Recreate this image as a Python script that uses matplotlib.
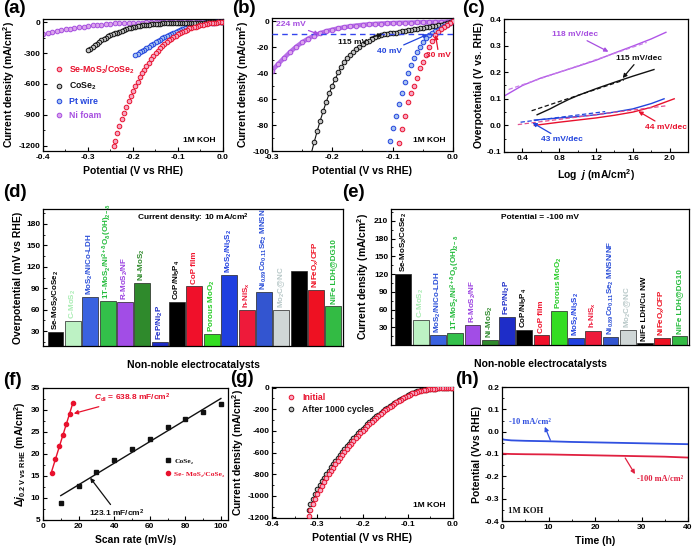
import numpy as np
import matplotlib
matplotlib.use('Agg')
import matplotlib.pyplot as plt
from matplotlib.ticker import AutoMinorLocator, MultipleLocator

plt.rcParams['font.family'] = ['Liberation Sans', 'DejaVu Sans']
plt.rcParams['font.weight'] = 'bold'
plt.rcParams['axes.labelweight'] = 'bold'
plt.rcParams['mathtext.fontset'] = 'custom'
plt.rcParams['mathtext.rm'] = 'Liberation Sans:bold'
plt.rcParams['mathtext.it'] = 'Liberation Sans:italic:bold'
plt.rcParams['mathtext.bf'] = 'Liberation Sans:bold'
plt.rcParams['mathtext.default'] = 'rm'
plt.rcParams['axes.unicode_minus'] = False
plt.rcParams['xtick.direction'] = 'in'
plt.rcParams['ytick.direction'] = 'in'
plt.rcParams['xtick.labelsize'] = 6
plt.rcParams['ytick.labelsize'] = 6
plt.rcParams['axes.labelsize'] = 7.5
plt.rcParams['axes.linewidth'] = 0.9
plt.rcParams['xtick.major.size'] = 3
plt.rcParams['ytick.major.size'] = 3
plt.rcParams['xtick.minor.size'] = 1.6
plt.rcParams['ytick.minor.size'] = 1.6
plt.rcParams['xtick.major.pad'] = 2
plt.rcParams['ytick.major.pad'] = 2

# ---------------- data ----------------
# polarization curves (V vs RHE, mA/cm2)
se_E = [0, -0.005, -0.01, -0.015, -0.02, -0.025, -0.03, -0.035, -0.04, -0.045,
        -0.05, -0.055, -0.06, -0.065, -0.07, -0.075, -0.08, -0.085, -0.09, -0.095,
        -0.1, -0.105, -0.11, -0.115, -0.12, -0.125, -0.13, -0.135, -0.14, -0.145,
        -0.15, -0.155, -0.16, -0.165, -0.17, -0.175, -0.18, -0.185, -0.19, -0.195,
        -0.2, -0.205, -0.21, -0.215, -0.22, -0.225, -0.23, -0.235, -0.24, -0.243]
se_j = [0, -1.5, -3.0, -4.5, -6.2, -8.2, -10.8, -15, -20, -26,
        -31, -36, -44, -50, -55, -62, -73, -83, -94, -105,
        -117, -130, -145, -160, -176, -194, -213, -233, -255, -278,
        -302, -330, -360, -392, -425, -460, -497, -536, -578, -622,
        -668, -716, -768, -823, -880, -942, -1008, -1078, -1150, -1205]

cose_E = [0, -0.005, -0.01, -0.015, -0.02, -0.025, -0.03, -0.035, -0.04, -0.045,
          -0.05, -0.055, -0.06, -0.065, -0.07, -0.075, -0.08, -0.085, -0.09, -0.095,
          -0.1, -0.105, -0.11, -0.115, -0.12, -0.125, -0.13, -0.135, -0.14, -0.145,
          -0.15, -0.155, -0.16, -0.165, -0.17, -0.175, -0.18, -0.185, -0.19, -0.195,
          -0.2, -0.205, -0.21, -0.215, -0.22, -0.225, -0.23, -0.235, -0.24, -0.245,
          -0.25, -0.255, -0.26, -0.265, -0.27, -0.275, -0.28, -0.285, -0.29, -0.295, -0.3]
cose_j = [0, -0.8, -1.5, -2.0, -2.5, -3.0, -3.4, -3.8, -4.2, -4.6,
          -5.0, -5.4, -5.8, -6.2, -6.6, -7.0, -7.4, -7.8, -8.2, -8.6,
          -9.0, -9.3, -9.7, -10.1, -10.7, -11.5, -12.4, -13.5, -14.8, -16.2,
          -17.8, -19.5, -21.4, -23.5, -25.8, -28.5, -31.6, -35.2, -39.4, -44.2,
          -49.5, -55.5, -62, -69, -76.5, -84.5, -93, -102, -110, -119,
          -128, -139, -150, -163, -177, -192, -208, -224, -241, -258, -275]

pt_E = [0, -0.005, -0.01, -0.015, -0.02, -0.025, -0.03, -0.035, -0.04, -0.045,
        -0.05, -0.055, -0.06, -0.065, -0.07, -0.075, -0.08, -0.085, -0.09, -0.095,
        -0.1, -0.105, -0.11, -0.115, -0.12, -0.125, -0.13, -0.135, -0.14, -0.145,
        -0.15, -0.155, -0.16, -0.165, -0.17, -0.175, -0.18, -0.185, -0.19, -0.195]
pt_j = [0, -1.2, -2.5, -3.8, -5.0, -6.3, -7.7, -9.2, -10.8, -13.0,
        -16.0, -19.5, -23.5, -28.5, -34, -40, -47, -55, -64, -73,
        -82, -92, -102, -113, -124, -135, -147, -159, -171, -184,
        -197, -210, -224, -238, -252, -266, -280, -294, -308, -320]

ni_E = [0, -0.01, -0.02, -0.03, -0.04, -0.05, -0.06, -0.07, -0.08, -0.09,
        -0.1, -0.11, -0.12, -0.13, -0.14, -0.15, -0.16, -0.17, -0.18, -0.19,
        -0.2, -0.21, -0.22, -0.23, -0.24, -0.25, -0.26, -0.27, -0.28, -0.29,
        -0.3, -0.31, -0.32, -0.33, -0.34, -0.35, -0.36, -0.37, -0.38, -0.39, -0.4]
ni_j = [0, -0.2, -0.4, -0.5, -0.6, -0.7, -0.8, -0.9, -1.0, -1.1,
        -1.3, -1.5, -1.7, -2.0, -2.3, -2.7, -3.2, -3.8, -4.5, -5.4,
        -6.4, -7.6, -9.1, -11.0, -13.3, -16.2, -19.6, -23.7, -28.2, -33,
        -38, -43.5, -49.5, -56, -63, -70.5, -78.5, -87, -96, -105.5, -115]

# Tafel plots (log j, overpotential V)
taf_pu_x = [0.21, 0.4, 0.6, 0.8, 1.0, 1.2, 1.4, 1.6, 1.8, 1.96]
taf_pu_y = [0.112, 0.15, 0.178, 0.2, 0.222, 0.245, 0.272, 0.298, 0.325, 0.35]
taf_bk_x = [0.56, 0.7, 0.8, 0.9, 1.0, 1.2, 1.4, 1.6, 1.83]
taf_bk_y = [0.04, 0.062, 0.08, 0.097, 0.112, 0.138, 0.162, 0.185, 0.21]
taf_bl_x = [0.53, 0.8, 1.0, 1.2, 1.4, 1.6, 1.8, 1.94]
taf_bl_y = [0.02, 0.028, 0.033, 0.04, 0.05, 0.062, 0.082, 0.1]
taf_rd_x = [0.53, 0.8, 1.0, 1.2, 1.4, 1.6, 1.8, 2.05]
taf_rd_y = [0.0, 0.012, 0.02, 0.028, 0.038, 0.05, 0.068, 0.1]
fit_pu_x, fit_pu_y = [0.25, 1.75], [0.135, 0.312]
fit_bk_x, fit_bk_y = [0.5, 1.5], [0.055, 0.17]
fit_bl_x, fit_bl_y = [0.38, 1.3], [0.012, 0.052]
fit_rd_x, fit_rd_y = [0.35, 1.97], [0.003, 0.074]

# comparison bars
cat_d = ['Se-MoS$_2$/CoSe$_2$', 'C-MoS$_2$', 'MoS$_2$/NiCo-LDH',
         '1T-MoS$_2$/Ni$^{2+\\delta}$O$_\\delta$(OH)$_{2-\\delta}$', 'R-MoS$_2$/NF',
         'Ni-MoS$_2$', 'FeP/Ni$_2$P', 'CoP/Ni$_5$P$_4$', 'CoP film', 'Porous MoO$_2$',
         'MoS$_2$/Ni$_3$S$_2$', 'h-NiS$_x$', 'Ni$_{0.89}$Co$_{0.11}$Se$_2$ MNSN',
         'Mo$_2$C@NC', '', 'NiFeO$_x$/CFP', 'NiFe LDH@DG10']
cat_e = ['Se-MoS$_2$/CoSe$_2$', 'C-MoS$_2$', 'MoS$_2$/NiCo-LDH',
         '1T-MoS$_2$/Ni$^{2+\\delta}$O$_\\delta$(OH)$_{2-\\delta}$', 'R-MoS$_2$/NF',
         'Ni-MoS$_2$', 'FeP/Ni$_2$P', 'CoP/Ni$_5$P$_4$', 'CoP film', 'Porous MoO$_2$',
         'MoS$_2$/Ni$_3$S$_2$', 'h-NiS$_x$', 'Ni$_{0.89}$Co$_{0.11}$Se$_2$ MNSN/NF',
         'Mo$_2$C@NC', 'NiFe LDH/Cu NW', 'NiFeO$_x$/CFP', 'NiFe LDH@DG10']
overpot = [29, 44.5, 77, 72, 70, 97, 14.5, 70, 93, 26, 109, 60, 85, 60, 114, 87, 65]
curr100 = [120, 42.5, 17.6, 21, 34.5, 8.6, 48, 25.5, 16.5, 57.6, 11, 24.4, 13, 25, 4, 11, 15]
bar_colors = ['#000000', '#bdf2c4', '#3a62e0', '#33c04a', '#a24de6', '#2f8a2c',
              '#1e2dc8', '#000000', '#f0102a', '#33dd22', '#1f3fe0', '#ee1a3a',
              '#3355d0', '#cfd6d6', '#000000', '#ee1122', '#33bb44']
text_colors = ['#000000', '#a8ecb2', '#2a4ed8', '#22bb3a', '#9a40e0', '#2f8a2c',
               '#1e2dc8', '#000000', '#f0102a', '#22cc22', '#1f3fe0', '#ee1a3a',
               '#2a4ed8', '#b8c8c8', '#000000', '#ee1122', '#22bb3a']

# double layer capacitance
scan_cose = [10, 20, 30, 40, 50, 60, 70, 80, 90, 100]
dj_cose = [8.9, 12.7, 16.0, 18.7, 21.1, 23.3, 26.2, 28.0, 29.6, 31.3]
scan_se = [5, 7, 9, 11, 13, 15, 17]
dj_se = [15.75, 18.9, 21.75, 24.3, 26.9, 29.2, 31.5]

# stability: initial vs after 1000 cycles
g_E = [0, -0.005, -0.01, -0.015, -0.02, -0.025, -0.03, -0.035, -0.04, -0.045,
       -0.05, -0.055, -0.06, -0.065, -0.07, -0.075, -0.08, -0.085, -0.09, -0.095,
       -0.1, -0.105, -0.11, -0.115, -0.12, -0.125, -0.13, -0.135, -0.14, -0.145,
       -0.15, -0.155, -0.16, -0.165, -0.17, -0.175, -0.18, -0.185, -0.19, -0.195,
       -0.2, -0.205, -0.21, -0.215, -0.22, -0.225, -0.23, -0.235, -0.24, -0.245,
       -0.25, -0.255, -0.26, -0.265, -0.27, -0.275, -0.28, -0.285, -0.29, -0.295,
       -0.3, -0.305, -0.31, -0.315, -0.318]
g_init = [-1, -2, -3, -4, -5, -6, -7, -8, -10, -12,
          -14, -17, -20, -24, -28, -33, -38, -46, -55, -66,
          -78, -89, -100, -112, -125, -138, -152, -166, -180, -196,
          -212, -228, -245, -262, -280, -299, -318, -338, -358, -379,
          -400, -422, -445, -468, -492, -517, -542, -568, -595, -622,
          -650, -679, -708, -739, -770, -802, -835, -870, -905, -945,
          -985, -1030, -1080, -1135, -1190]
g_after = [-1, -2, -3, -4, -5, -6, -7, -8, -9, -11,
           -13, -16, -19, -22, -26, -31, -36, -43, -51, -61,
           -72, -83, -94, -105, -117, -130, -143, -157, -171, -186,
           -201, -217, -233, -250, -267, -285, -303, -322, -341, -361,
           -381, -402, -424, -446, -469, -493, -517, -542, -568, -594,
           -621, -648, -677, -706, -736, -767, -798, -831, -864, -900,
           -938, -980, -1025, -1075, -1130]

# chronopotentiometry
t_h = [0, 0.5, 2, 5, 10, 15, 20, 25, 30, 35, 40]
v_10 = [-0.033, -0.036, -0.039, -0.041, -0.043, -0.046, -0.048, -0.05, -0.052, -0.054, -0.056]
v_100 = [-0.098, -0.099, -0.1, -0.101, -0.102, -0.104, -0.106, -0.108, -0.11, -0.112, -0.116]

RED, RED_F = '#e8112d', '#f6a9c4'
BLK, BLK_F = '#111111', '#c4c4c4'
BLU, BLU_F = '#2244dd', '#a8c4f0'
PUR, PUR_F = '#a64ee0', '#dca6ec'

W, H = 694, 552
fig = plt.figure(figsize=(W / 100, H / 100), dpi=100)


def add_ax(l, t, r, b):
    return fig.add_axes([l / W, 1 - b / H, (r - l) / W, (b - t) / H])


def minor(ax, x=True, y=True):
    if x:
        ax.xaxis.set_minor_locator(AutoMinorLocator(2))
    if y:
        ax.yaxis.set_minor_locator(AutoMinorLocator(2))


mk = dict(marker='o', ms=3.3, mew=0.7, ls='none')
arw = dict(arrowstyle='-|>', lw=0.9, mutation_scale=6, shrinkA=0, shrinkB=0)

# (a) ------------------------------------------------------------
ax = add_ax(43, 19, 223, 151)
ax.plot(se_E, se_j, mec=RED, mfc=RED_F, label='Se-MoS$_2$/CoSe$_2$', zorder=5, **mk)
ax.plot(cose_E, cose_j, mec=BLK, mfc=BLK_F, label='CoSe$_2$', zorder=4, **mk)
ax.plot(pt_E, pt_j, mec=BLU, mfc=BLU_F, label='Pt wire', zorder=3, **mk)
ax.plot(ni_E, ni_j, mec=PUR, mfc=PUR_F, label='Ni foam', zorder=2, **mk)
ax.set_xlim(-0.4, 0.0)
ax.set_ylim(-1250, 30)
ax.xaxis.set_major_locator(MultipleLocator(0.1))
ax.set_yticks([0, -300, -600, -900, -1200])
minor(ax)
ax.set_xlabel('Potential (V vs RHE)')
ax.set_ylabel('Current density (mA/cm$^2$)', labelpad=1)
ax.legend(loc='upper left', bbox_to_anchor=(0.02, 0.69), frameon=False, fontsize=6.3,
          handletextpad=0.2, labelspacing=0.55, numpoints=1, borderaxespad=0,
          labelcolor='markeredgecolor')
ax.text(0.96, 0.05, '1M KOH', transform=ax.transAxes, ha='right', va='bottom', fontsize=6)

# (b) ------------------------------------------------------------
ax = add_ax(272, 18, 453, 151)
ax.plot(ni_E, ni_j, color=PUR, lw=3.2, alpha=0.8, zorder=2)
ax.plot(ni_E, ni_j, mec=PUR, mfc=PUR_F, zorder=2, **mk)
ax.plot(cose_E, cose_j, color=BLK, lw=0.8, zorder=3)
ax.plot(cose_E, cose_j, mec=BLK, mfc=BLK_F, zorder=3, **mk)
ax.plot(pt_E, pt_j, mec=BLU, mfc=BLU_F, zorder=4, **mk)
ax.plot(se_E, se_j, mec=RED, mfc=RED_F, zorder=5, **mk)
ax.axhline(-10, color='#3344ee', ls=(0, (4, 3)), lw=1.0, zorder=6)
ax.set_xlim(-0.3, 0.0)
ax.set_ylim(-100, 2.6)
ax.xaxis.set_major_locator(MultipleLocator(0.1))
ax.yaxis.set_major_locator(MultipleLocator(20))
minor(ax)
ax.set_xlabel('Potential (V vs RHE)')
ax.set_ylabel('Current density (mA/cm$^2$)', labelpad=1)
ax.annotate('224 mV', xy=(-0.222, -10), xytext=(-0.293, -2.2), color=PUR, fontsize=6,
            va='center', arrowprops=dict(color=PUR, **arw), zorder=8)
ax.annotate('115 mV', xy=(-0.117, -10), xytext=(-0.19, -16), color=BLK, fontsize=6,
            va='center', arrowprops=dict(color=BLK, **arw), zorder=8)
ax.annotate('40 mV', xy=(-0.042, -10), xytext=(-0.126, -23), color=BLU, fontsize=6,
            va='center', arrowprops=dict(color=BLU, **arw), zorder=8)
ax.annotate('30 mV', xy=(-0.029, -10.5), xytext=(-0.044, -26.5), color=RED, fontsize=6,
            va='center', arrowprops=dict(color=RED, **arw), zorder=8)
ax.text(0.96, 0.05, '1M KOH', transform=ax.transAxes, ha='right', va='bottom', fontsize=6)

# (c) ------------------------------------------------------------
ax = add_ax(504, 19, 688, 152)
ax.plot(taf_pu_x, taf_pu_y, color='#b055e8', lw=1.0)
ax.plot(taf_bk_x, taf_bk_y, color=BLK, lw=1.0)
ax.plot(taf_bl_x, taf_bl_y, color=BLU, lw=1.0)
ax.plot(taf_rd_x, taf_rd_y, color=RED, lw=1.0)
dash = (0, (3.5, 2))
ax.plot(fit_pu_x, fit_pu_y, color='#c77ee8', lw=0.9, ls=dash)
ax.plot(fit_bk_x, fit_bk_y, color=BLK, lw=0.9, ls=dash)
ax.plot(fit_bl_x, fit_bl_y, color=BLU, lw=0.9, ls=dash)
ax.plot(fit_rd_x, fit_rd_y, color='#e05090', lw=0.9, ls=dash)
ax.set_xlim(0.2, 2.2)
ax.set_ylim(-0.1, 0.4)
ax.set_xticks([0.4, 0.8, 1.2, 1.6, 2.0])
ax.yaxis.set_major_locator(MultipleLocator(0.1))
minor(ax)
ax.set_xlabel('Log  $\\mathit{j}$ (mA/cm$^2$)')
ax.set_ylabel('Overpotential (V vs. RHE)', labelpad=2)
ax.annotate('118 mV/dec', xy=(1.335, 0.277), xytext=(0.72, 0.342), color='#a64ee0',
            fontsize=6, va='center', arrowprops=dict(color='#a64ee0', **arw))
ax.annotate('115 mV/dec', xy=(1.49, 0.178), xytext=(1.42, 0.252), color=BLK,
            fontsize=6, va='center', arrowprops=dict(color=BLK, **arw))
ax.annotate('44 mV/dec', xy=(1.66, 0.053), xytext=(1.73, -0.007), color=RED,
            fontsize=6, va='center', arrowprops=dict(color=RED, **arw))
ax.annotate('43 mV/dec', xy=(0.51, 0.01), xytext=(0.6, -0.054), color=BLU,
            fontsize=6, va='center', arrowprops=dict(color=BLU, **arw))


# (d), (e) bars ----------------------------------------------------
def bar_panel(ax, vals, cats, ylim, ylab, title):
    x = np.arange(len(vals))
    ax.bar(x, vals, width=0.92, color=bar_colors, edgecolor='#222222', lw=0.5)
    for i, (v, lab) in enumerate(zip(vals, cats)):
        if lab:
            ax.annotate(lab, xy=(i, v), xytext=(0, 1.5), textcoords='offset points',
                        rotation=90, ha='center', va='bottom', fontsize=5.8,
                        color=text_colors[i])
    ax.set_xlim(-0.72, len(vals) - 0.45)
    ax.set_ylim(*ylim)
    ax.set_xticks([])
    ax.set_yticks(range(30, int(ylim[1]), 30))
    ax.yaxis.set_minor_locator(AutoMinorLocator(2))
    ax.set_ylabel(ylab, labelpad=2)
    ax.set_xlabel('Non-noble electrocatalysts', labelpad=10)
    ax.text(0.5, 0.935, title, transform=ax.transAxes, ha='center', va='center',
            fontsize=6)


ax = add_ax(43, 209, 343, 346)
bar_panel(ax, overpot, cat_d, (9, 201), 'Overpotential (mV vs RHE)',
          'Current density: 10 mA/cm$^2$')
ax = add_ax(391, 209, 689, 345)
bar_panel(ax, curr100, cat_e, (0, 230), 'Current density (mA/cm$^2$)',
          'Potential = -100 mV')

# (f) ------------------------------------------------------------
ax = add_ax(43, 388, 228, 520)
k1, b1 = np.polyfit(scan_cose, dj_cose, 1)
k2, b2 = np.polyfit(scan_se, dj_se, 1)
xs1 = np.array([scan_cose[0], scan_cose[-1]])
xs2 = np.array([scan_se[0], scan_se[-1]])
ax.plot(xs1, k1 * xs1 + b1, color=BLK, lw=1.0)
ax.plot(xs2, k2 * xs2 + b2, color=RED, lw=1.0)
ax.plot(scan_cose, dj_cose, 's', color=BLK, ms=3, label='CoSe₂')
ax.plot(scan_se, dj_se, 'o', color=RED, ms=3, label='Se- MoS₂/CoSe₂')
ax.set_xlim(0, 104)
ax.set_ylim(5, 35)
ax.xaxis.set_major_locator(MultipleLocator(20))
ax.yaxis.set_major_locator(MultipleLocator(5))
minor(ax)
ax.set_xlabel('Scan rate (mV/s)')
ax.set_ylabel('$\\Delta\\mathit{j}_{0.2\\ V\\ vs\\ RHE}$ (mA/cm$^2$)', labelpad=2)
ax.legend(loc='center left', bbox_to_anchor=(0.64, 0.4), frameon=False,
          prop=dict(family=['Liberation Serif', 'DejaVu Serif'], weight='bold', size=5.4),
          handlelength=1.0, handletextpad=0.3, labelspacing=0.9, numpoints=1,
          borderaxespad=0, labelcolor='markeredgecolor')
ax.annotate('$\\mathit{C}_{dl}$ = 638.8 mF/cm$^2$', xy=(17.3, 29.2), xytext=(28.5, 32.8),
            color=RED, fontsize=6, va='center', arrowprops=dict(color=RED, **arw))
ax.annotate('123.1 mF/cm$^2$', xy=(26.5, 14.6), xytext=(26, 6.6), color=BLK,
            fontsize=6, va='center', arrowprops=dict(color=BLK, **arw))

# (g) ------------------------------------------------------------
ax = add_ax(272, 387, 453, 518)
ax.plot(g_E, g_init, mec=RED, mfc=RED_F, label='Initial', zorder=3, **mk)
ax.plot(g_E, g_after, mec=BLK, mfc=BLK_F, label='After 1000 cycles', zorder=2, **mk)
ax.set_xlim(-0.4, 0.0)
ax.set_ylim(-1205, 5)
ax.xaxis.set_major_locator(MultipleLocator(0.1))
ax.yaxis.set_major_locator(MultipleLocator(200))
minor(ax)
ax.set_xlabel('Potential (V vs RHE)')
ax.set_ylabel('Current density (mA/cm$^2$)', labelpad=1)
ax.legend(loc='upper left', bbox_to_anchor=(0.04, 0.98), frameon=False, fontsize=6.3,
          handletextpad=0.2, labelspacing=0.3, numpoints=1, borderaxespad=0,
          labelcolor='markeredgecolor')
ax.text(0.96, 0.07, '1M KOH', transform=ax.transAxes, ha='right', va='bottom', fontsize=6)

# (h) ------------------------------------------------------------
ax = add_ax(502, 387, 688, 521)
ax.plot(t_h, v_10, color='#3050e0', lw=1.3)
ax.plot(t_h, v_100, color='#e02040', lw=1.3)
ax.set_xlim(0, 40)
ax.set_ylim(-0.4, 0.2)
ax.xaxis.set_major_locator(MultipleLocator(10))
ax.yaxis.set_major_locator(MultipleLocator(0.1))
minor(ax)
ax.set_xlabel('Time (h)')
ax.set_ylabel('Potential (Vvs RHE)', labelpad=2)
serif = ['Liberation Serif', 'DejaVu Serif']
ax.annotate('', xy=(9.2, 0.022), xytext=(10.4, -0.038),
            arrowprops=dict(color='#3050e0', **arw))
ax.text(1.6, 0.045, '-10 mA/cm²', color='#3050e0', fontsize=6, family=serif, va='center')
ax.annotate('', xy=(28.6, -0.19), xytext=(26.5, -0.118),
            arrowprops=dict(color='#e02040', **arw))
ax.text(29, -0.212, '-100 mA/cm²', color='#e02040', fontsize=6, family=serif, va='center')
ax.text(1.3, -0.357, '1M KOH', color=BLK, fontsize=6.3, family=serif, va='center')

# panel letters
for lab, px, py in [('(a)', 3, 0), ('(b)', 232, 0), ('(c)', 462, 0),
                    ('(d)', 3, 184), ('(e)', 342, 184),
                    ('(f)', 3, 372), ('(g)', 230, 370), ('(h)', 455, 371)]:
    fig.text(px / W, 1 - py / H, lab, fontsize=13.5, fontweight='bold', ha='left', va='top')

fig.savefig('out.png', dpi=100)
